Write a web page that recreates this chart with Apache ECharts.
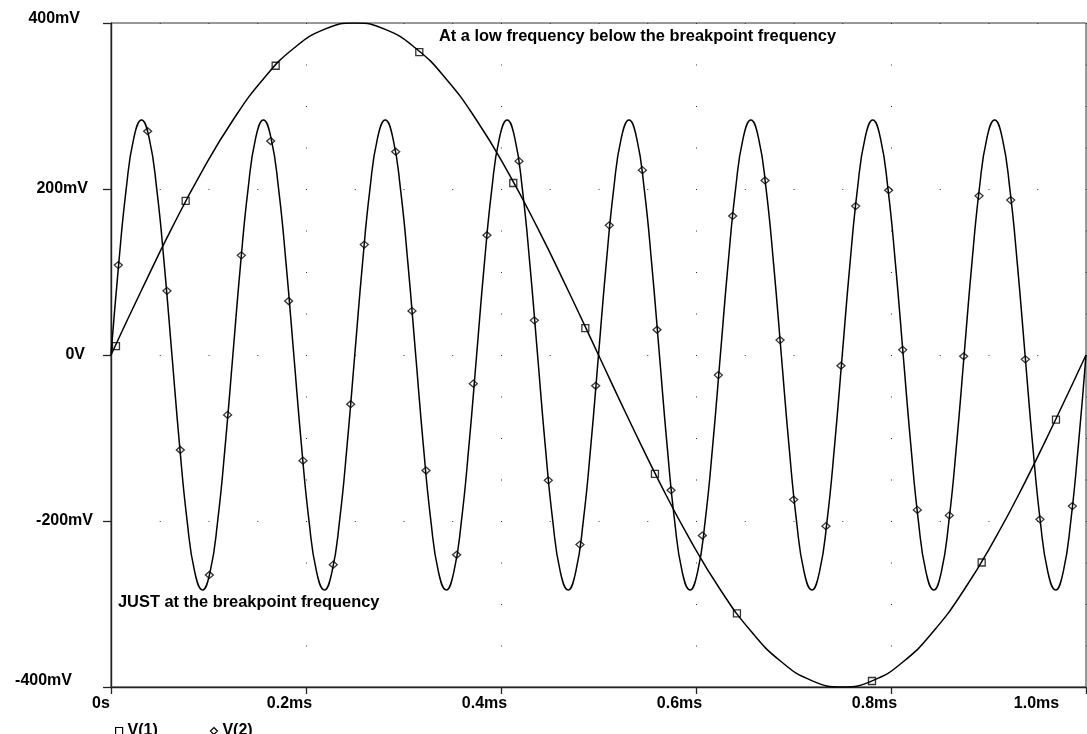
<!DOCTYPE html>
<html>
<head>
<meta charset="utf-8">
<script src="https://cdn.jsdelivr.net/npm/echarts/dist/echarts.min.js"></script>
<style>
html, body { margin: 0; padding: 0; background: #fff; }
#chart { width: 1087px; height: 734px; }
</style>
</head>
<body>
<div id="chart"></div>
<script>
// tick labels (x in microseconds, y in millivolts)
var xTickLabels = ['0s', '0.2ms', '0.4ms', '0.6ms', '0.8ms', '1.0ms'];
var yTickLabels = ['-400mV', '-200mV', '0V', '200mV', '400mV'];

// V(1): low frequency trace
var tSlow = [0, 31.25, 62.5, 93.75, 125, 156.25, 187.5, 218.75, 250, 281.25, 312.5, 343.75, 375, 406.25, 437.5, 468.75,
    500, 531.25, 562.5, 593.75, 625, 656.25, 687.5, 718.75, 750, 781.25, 812.5, 843.75, 875, 906.25, 937.5, 968.75, 1000];
var vSlow = [0, 78, 153.1, 222.2, 282.8, 332.6, 369.6, 392.3, 400, 392.3, 369.6, 332.6, 282.8, 222.2, 153.1, 78,
    0, -78, -153.1, -222.2, -282.8, -332.6, -369.6, -392.3, -400, -392.3, -369.6, -332.6, -282.8, -222.2, -153.1, -78, 0];

// V(2): breakpoint frequency trace
var tFast = [0, 7.8, 15.6, 23.4, 31.3, 39.1, 46.9, 54.7, 62.5, 70.3, 78.1, 85.9, 93.8, 101.6, 109.4, 117.2,
    125, 132.8, 140.6, 148.4, 156.3, 164.1, 171.9, 179.7, 187.5, 195.3, 203.1, 210.9, 218.8, 226.6, 234.4, 242.2,
    250, 257.8, 265.6, 273.4, 281.3, 289.1, 296.9, 304.7, 312.5, 320.3, 328.1, 335.9, 343.8, 351.6, 359.4, 367.2,
    375, 382.8, 390.6, 398.4, 406.3, 414.1, 421.9, 429.7, 437.5, 445.3, 453.1, 460.9, 468.8, 476.6, 484.4, 492.2,
    500, 507.8, 515.6, 523.4, 531.3, 539.1, 546.9, 554.7, 562.5, 570.3, 578.1, 585.9, 593.8, 601.6, 609.4, 617.2,
    625, 632.8, 640.6, 648.4, 656.3, 664.1, 671.9, 679.7, 687.5, 695.3, 703.1, 710.9, 718.8, 726.6, 734.4, 742.2,
    750, 757.8, 765.6, 773.4, 781.3, 789.1, 796.9, 804.7, 812.5, 820.3, 828.1, 835.9, 843.8, 851.6, 859.4, 867.2,
    875, 882.8, 890.6, 898.4, 906.3, 914.1, 921.9, 929.7, 937.5, 945.3, 953.1, 960.9, 968.8, 976.6, 984.4, 992.2, 1000];
var vFast = [0, 108.3, 200.1, 261.5, 283, 261.5, 200.1, 108.3, 0, -108.3, -200.1, -261.5, -283, -261.5, -200.1, -108.3,
    0, 108.3, 200.1, 261.5, 283, 261.5, 200.1, 108.3, 0, -108.3, -200.1, -261.5, -283, -261.5, -200.1, -108.3,
    0, 108.3, 200.1, 261.5, 283, 261.5, 200.1, 108.3, 0, -108.3, -200.1, -261.5, -283, -261.5, -200.1, -108.3,
    0, 108.3, 200.1, 261.5, 283, 261.5, 200.1, 108.3, 0, -108.3, -200.1, -261.5, -283, -261.5, -200.1, -108.3,
    0, 108.3, 200.1, 261.5, 283, 261.5, 200.1, 108.3, 0, -108.3, -200.1, -261.5, -283, -261.5, -200.1, -108.3,
    0, 108.3, 200.1, 261.5, 283, 261.5, 200.1, 108.3, 0, -108.3, -200.1, -261.5, -283, -261.5, -200.1, -108.3,
    0, 108.3, 200.1, 261.5, 283, 261.5, 200.1, 108.3, 0, -108.3, -200.1, -261.5, -283, -261.5, -200.1, -108.3,
    0, 108.3, 200.1, 261.5, 283, 261.5, 200.1, 108.3, 0, -108.3, -200.1, -261.5, -283, -261.5, -200.1, -108.3, 0];

// simulator marker points
var tSlowMarks = [5.1, 76.6, 168.9, 316.2, 412.6, 486.5, 557.9, 642, 780.5, 893, 969.2];
var vSlowMarks = [10.8, 185.6, 348.5, 365, 207.2, 32.5, -143.3, -311.4, -392.8, -250, -77.8];
var tFastMarks = [7.5, 37.6, 57.4, 71.1, 100.9, 119.6, 133.7, 163.8, 182.2, 196.9, 228, 245.8,
    259.8, 292, 308.7, 323.1, 354.5, 371.6, 385.6, 418.5, 434.2, 448.5, 481, 497.1,
    511.1, 545, 560, 574.4, 606.5, 622.9, 637.6, 670.8, 686.2, 700.2, 733.3, 748.7,
    763.8, 797.6, 812, 827, 859.8, 874.5, 890.3, 922.8, 937.8, 952.8, 986];
var vFastMarks = [108.3, 269.6, 77.3, -114.4, -265, -72.2, 120.1, 257.8, 65, -127.3, -252.6, -59.3,
    133, 244.9, 53.1, -139.2, -240.7, -34.5, 144.3, 233.5, 41.8, -151, -228.4, -37.1,
    156.2, 222.7, 30.4, -162.9, -217.5, -24.2, 167.5, 210.3, 18, -174.2, -206.2, -12.9,
    179.4, 198.5, 6.2, -186.6, -193.3, -1.5, 191.8, 186.6, -5.2, -198, -182];

var FONT = '"Liberation Sans", Arial, sans-serif';

function pairs(t, v) {
    return t.map(function (x, i) { return [x, v[i]]; });
}

function lbl(pad) {
    return { padding: pad, fontFamily: FONT, fontWeight: 'bold', fontSize: 16, color: '#000' };
}

var chart = echarts.init(document.getElementById('chart'));

var option = {
    animation: false,
    backgroundColor: '#fff',
    grid: {
        left: 111, top: 23, right: 1, bottom: 47,
        show: true, borderColor: '#333', borderWidth: 1
    },
    xAxis: {
        type: 'value',
        min: 0, max: 1000, interval: 200,
        axisLine: { onZero: false, lineStyle: { color: '#222', width: 1.4 } },
        axisTick: { show: true, length: 7, lineStyle: { color: '#222', width: 1.3 } },
        splitLine: { show: true, lineStyle: { color: '#333', width: 1, type: [1, 40.5] } },
        axisLabel: {
            margin: 9,
            showMinLabel: true, showMaxLabel: true,
            color: '#000', fontFamily: FONT, fontWeight: 'bold', fontSize: 16,
            formatter: function (v) {
                var i = Math.round(v / 200);
                var k = i === 0 ? 'a' : (i === 5 ? 'c' : 'b');
                return '{' + k + '|' + xTickLabels[i] + '}';
            },
            rich: {
                a: lbl([0, 20, 0, 0]),
                b: lbl([0, 33, 0, 0]),
                c: lbl([0, 99, 0, 0])
            }
        }
    },
    yAxis: {
        type: 'value',
        min: -400, max: 400, interval: 200,
        axisLine: { onZero: false, lineStyle: { color: '#222', width: 1.4 } },
        axisTick: { show: true, length: 8, lineStyle: { color: '#222', width: 1.3 } },
        splitLine: { show: true, lineStyle: { color: '#333', width: 1, type: [1, 47.75] } },
        axisLabel: {
            margin: 18,
            showMinLabel: true, showMaxLabel: true,
            color: '#000', fontFamily: FONT, fontWeight: 'bold', fontSize: 16,
            formatter: function (v) {
                var i = Math.round((v + 400) / 200);
                return '{y' + i + '|' + yTickLabels[i] + '}';
            },
            rich: {
                y0: lbl([0, 21, 12, 0]),
                y1: lbl([0, 0, 0, 0]),
                y2: lbl([0, 8, 0, 0]),
                y3: lbl([0, 5, 0, 0]),
                y4: lbl([0, 13, 8, 0])
            }
        }
    },
    legend: {
        left: 115, top: 723, padding: 0,
        itemWidth: 7, itemHeight: 7, itemGap: 52,
        selectedMode: false,
        textStyle: { color: '#000', fontFamily: FONT, fontWeight: 'bold', fontSize: 16 },
        data: [
            { name: 'V(1)', icon: 'rect', itemStyle: { color: 'rgba(0,0,0,0)', borderColor: '#000', borderWidth: 1.2 } },
            { name: 'V(2)', icon: 'diamond', itemStyle: { color: 'rgba(0,0,0,0)', borderColor: '#000', borderWidth: 1.2 } }
        ]
    },
    graphic: [
        {
            type: 'text', x: 439, y: 36,
            style: { text: 'At a low frequency below the breakpoint frequency', font: 'bold 16.4px ' + FONT, fill: '#000', verticalAlign: 'middle' }
        },
        {
            type: 'text', x: 118, y: 602,
            style: { text: 'JUST at the breakpoint frequency', font: 'bold 16.4px ' + FONT, fill: '#000', verticalAlign: 'middle' }
        }
    ],
    series: [
        {
            name: 'V(1)', type: 'line', smooth: true, showSymbol: false,
            data: pairs(tSlow, vSlow),
            lineStyle: { color: '#000', width: 1.5 }, itemStyle: { color: '#000' }
        },
        {
            name: 'V(2)', type: 'line', smooth: true, showSymbol: false,
            data: pairs(tFast, vFast),
            lineStyle: { color: '#000', width: 1.5 }, itemStyle: { color: '#000' }
        },
        {
            name: 'V(1)', type: 'scatter', symbol: 'rect', symbolSize: 7,
            data: pairs(tSlowMarks, vSlowMarks),
            itemStyle: { color: 'rgba(0,0,0,0)', borderColor: '#000', borderWidth: 1.3 }
        },
        {
            name: 'V(2)', type: 'scatter', symbol: 'diamond', symbolSize: [8, 7],
            data: pairs(tFastMarks, vFastMarks),
            itemStyle: { color: 'rgba(0,0,0,0)', borderColor: '#000', borderWidth: 1.3 }
        }
    ]
};

chart.setOption(option);
</script>
</body>
</html>
